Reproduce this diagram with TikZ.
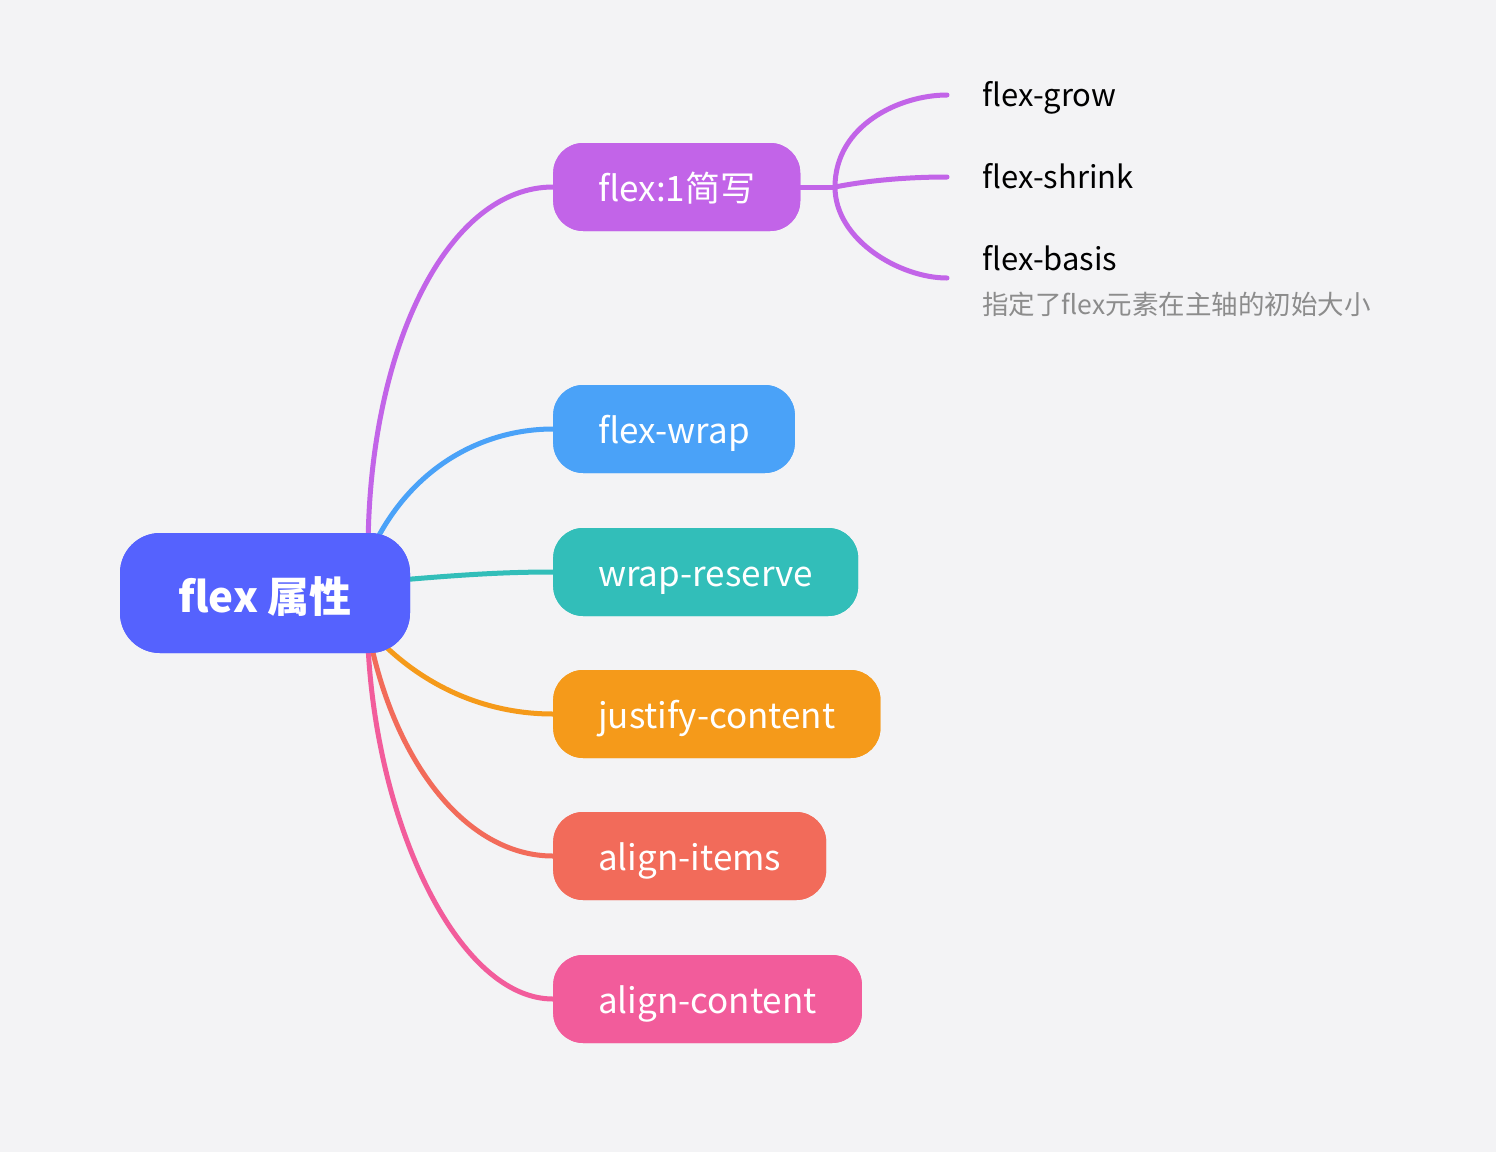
\documentclass[tikz,border=0pt]{standalone}
\usepackage{fontspec}
\setmainfont{Noto Sans CJK SC}
\definecolor{bg}{RGB}{243,243,245}
\definecolor{croot}{RGB}{85,98,254}
\definecolor{cpurple}{RGB}{194,100,232}
\definecolor{cblue}{RGB}{74,162,248}
\definecolor{cteal}{RGB}{50,190,185}
\definecolor{corange}{RGB}{245,154,26}
\definecolor{cred}{RGB}{242,107,90}
\definecolor{cpink}{RGB}{242,92,155}
\definecolor{cnote}{RGB}{140,140,140}
\begin{document}
\begin{tikzpicture}[x=1pt,y=-1pt,
  rootbox/.style={fill=croot,text=white,rounded corners=40pt,minimum width=290pt,minimum height=120pt,font=\fontsize{42}{50}\selectfont\bfseries,inner sep=0pt,text height=40pt,text depth=2pt},
  childbox/.style={fill=#1,text=white,rounded corners=30pt,minimum height=88pt,anchor=west,inner xsep=45pt,inner ysep=0pt,font=\fontsize{35}{42}\selectfont,text height=30pt,text depth=2pt},
  leaf/.style={anchor=base west,inner sep=0pt,font=\fontsize{31}{36}\selectfont,text=black},
  note/.style={anchor=base west,inner sep=0pt,font=\fontsize{26.5}{30}\selectfont,text=cnote},
  link/.style={draw=#1,line width=5pt,line cap=round}
]
\useasboundingbox[fill=bg] (0,0) rectangle (1496,1152);

\node[rootbox] (root) at (265,593) {flex 属性};
\node[childbox=cpurple] (c1) at (553,187) {flex:1简写};
\node[childbox=cblue] (c2) at (553,429) {flex-wrap};
\node[childbox=cteal] (c3) at (553,572) {wrap-reserve};
\node[childbox=corange] (c4) at (553,714) {justify-content};
\node[childbox=cred] (c5) at (553,856) {align-items};
\node[childbox=cpink] (c6) at (553,999) {align-content};

\node[leaf] (l1) at (982,106) {flex-grow};
\node[leaf] (l2) at (982,188) {flex-shrink};
\node[leaf] (l3) at (982,270) {flex-basis};
\node[note] (n3) at (982,314) {指定了flex元素在主轴的初始大小};

\coordinate (hub) at (835,187);
\coordinate (e1) at (947,95);
\coordinate (e2) at (947,177);
\coordinate (e3) at (947,278);

\draw[link=cpurple] ([xshift=-42pt,yshift=-4pt]root.north east) .. controls (372,340) and (450,187) .. (c1.west);
\draw[link=cblue] ([xshift=-32pt,yshift=-4pt]root.north east) .. controls (420,460) and (490,429) .. (c2.west);
\draw[link=cteal] ([xshift=-10pt,yshift=13pt]root.east) .. controls (470,574) and (510,572) .. (c3.west);
\draw[link=corange] ([xshift=-28pt,yshift=10pt]root.south east) .. controls (430,690) and (490,714) .. (c4.west);
\draw[link=cred] ([xshift=-38pt,yshift=4pt]root.south east) .. controls (400,770) and (470,856) .. (c5.west);
\draw[link=cpink] ([xshift=-42pt,yshift=4pt]root.south east) .. controls (378,830) and (460,999) .. (c6.west);

\draw[link=cpurple] (c1.east) -- (hub);
\draw[link=cpurple] (hub) .. controls (835,125) and (900,95) .. (e1);
\draw[link=cpurple] (hub) .. controls (870,180) and (910,177) .. (e2);
\draw[link=cpurple] (hub) .. controls (835,240) and (900,278) .. (e3);

% boxes drawn again on top of the connector ends
\node[rootbox] at (root) {flex 属性};
\node[childbox=cpurple] at (c1.west) {flex:1简写};
\node[childbox=cblue] at (c2.west) {flex-wrap};
\node[childbox=cteal] at (c3.west) {wrap-reserve};
\node[childbox=corange] at (c4.west) {justify-content};
\node[childbox=cred] at (c5.west) {align-items};
\node[childbox=cpink] at (c6.west) {align-content};
\end{tikzpicture}
\end{document}
